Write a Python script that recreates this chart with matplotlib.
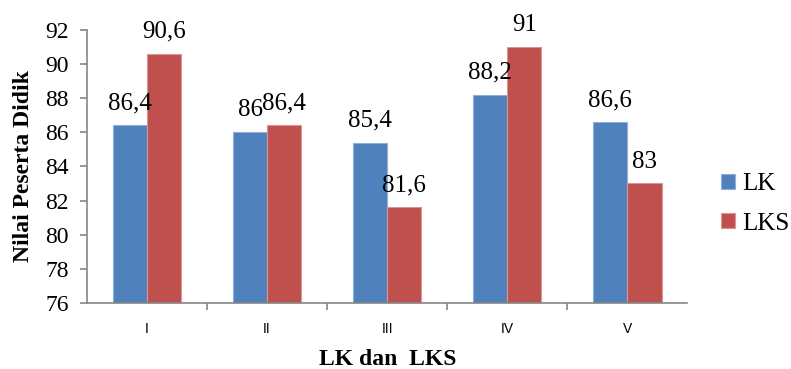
import numpy as np
import matplotlib.pyplot as plt

# data
kategori = ['I', 'II', 'III', 'IV', 'V']
nilai_lk = [86.4, 86, 85.4, 88.2, 86.6]
nilai_lks = [90.6, 86.4, 81.6, 91, 83]
label_lk = ['86,4', '86', '85,4', '88,2', '86,6']
label_lks = ['90,6', '86,4', '81,6', '91', '83']

serif = 'Liberation Serif'
warna_lk = '#4F81BD'
warna_lks = '#C0504D'
abu = '#868686'

fig = plt.figure(figsize=(7.91, 3.69), dpi=100)
ax = fig.add_axes([0.110, 0.179, 0.759, 0.740])

x = np.arange(len(kategori))
w = 0.285
b1 = ax.bar(x - w / 2, nilai_lk, w, color=warna_lk, edgecolor='#8FB0D8',
            linewidth=0.8, label='LK')
b2 = ax.bar(x + w / 2, nilai_lks, w, color=warna_lks, edgecolor='#D99694',
            linewidth=0.8, label='LKS')

# label nilai di atas batang
for bars, labels in [(b1, label_lk), (b2, label_lks)]:
    for rect, teks in zip(bars, labels):
        ax.annotate(teks, (rect.get_x() + rect.get_width() / 2, rect.get_height()),
                    xytext=(0, 11.5), textcoords='offset points',
                    ha='center', va='baseline', fontsize=18, family=serif)

ax.set_ylim(76, 92)
ax.set_yticks(np.arange(76, 93, 2))
ax.set_xlim(-0.5, len(kategori) - 0.5)

ax.set_xticks(x)
ax.set_xticklabels(kategori, fontsize=10, family='Liberation Sans')
ax.set_xticks(np.arange(0.5, len(kategori) - 0.5, 1), minor=True)
ax.tick_params(axis='x', which='major', length=0, pad=14)
ax.tick_params(axis='x', which='minor', length=5, width=1.2, color=abu, direction='out')
ax.tick_params(axis='y', length=5, width=1.2, color=abu, direction='out', pad=8)
for t in ax.get_yticklabels():
    t.set_fontfamily(serif)
    t.set_fontsize(17)

for s in ['top', 'right']:
    ax.spines[s].set_visible(False)
for s in ['left', 'bottom']:
    ax.spines[s].set_color(abu)
    ax.spines[s].set_linewidth(1.2)

ax.set_ylabel('Nilai Peserta Didik', fontsize=17, fontweight='bold', family=serif, labelpad=8)
ax.set_xlabel('LK dan  LKS', fontsize=17, fontweight='bold', family=serif, labelpad=9)

ax.legend(loc='center left', bbox_to_anchor=(1.04, 0.363), frameon=False,
          borderaxespad=0, prop={'family': serif, 'size': 18},
          handlelength=0.55, handleheight=0.55,
          labelspacing=0.7, handletextpad=0.3)

fig.savefig('out.png', dpi=100)
